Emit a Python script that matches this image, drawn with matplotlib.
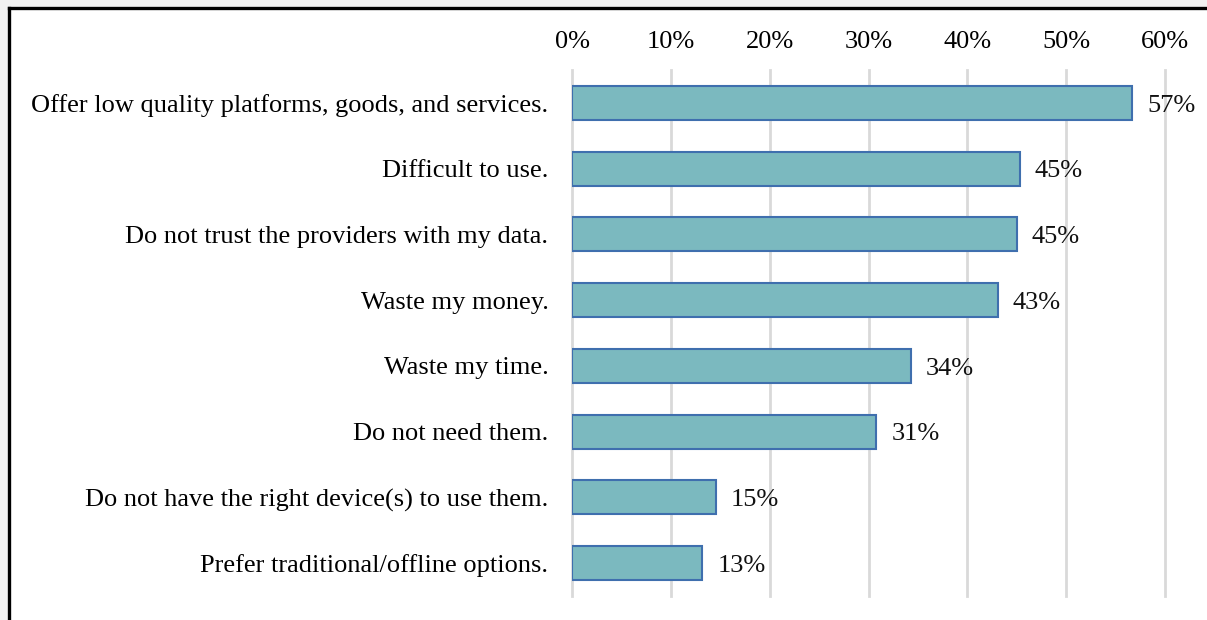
import matplotlib
matplotlib.use("Agg")
import matplotlib.pyplot as plt
from matplotlib.patches import Rectangle
from matplotlib.lines import Line2D
from matplotlib.ticker import FuncFormatter

# Reasons for not using digital platforms (share of respondents, %)
reasons = [
    "Offer low quality platforms, goods, and services.",
    "Difficult to use.",
    "Do not trust the providers with my data.",
    "Waste my money.",
    "Waste my time.",
    "Do not need them.",
    "Do not have the right device(s) to use them.",
    "Prefer traditional/offline options.",
]
shares = [56.7, 45.3, 45.0, 43.1, 34.3, 30.8, 14.6, 13.2]
x_ticks = [0, 10, 20, 30, 40, 50, 60]

plt.rcParams["font.family"] = ["Liberation Serif", "DejaVu Serif"]

W, H = 1207, 620
fig = plt.figure(figsize=(W / 100, H / 100), dpi=100)
fig.patch.set_facecolor("#f2f2f2")

# white panel with a dark frame on the top and left edges
fig.add_artist(Rectangle((9 / W, 0), 1, 1 - 8 / H, transform=fig.transFigure,
                         facecolor="white", edgecolor="none", zorder=0))
fig.add_artist(Line2D([8.5 / W, 8.5 / W], [0, 1 - 7.5 / H], transform=fig.transFigure,
                      color="black", lw=2.4, zorder=1))
fig.add_artist(Line2D([8.5 / W, 1], [1 - 7.5 / H, 1 - 7.5 / H], transform=fig.transFigure,
                      color="black", lw=2.4, zorder=1))

ax = fig.add_axes([572 / W, 1 - 596 / H, (1165 - 572) / W, (596 - 70) / H])
ax.set_facecolor("none")

ypos = range(len(reasons))
ax.barh(ypos, shares, height=0.52, color="#7bb9bf", edgecolor="#3f6fae",
        linewidth=1.5, zorder=3)
for y, v in zip(ypos, shares):
    ax.text(v + 1.5, y + 0.04, f"{v:.0f}%", va="center", ha="left",
            fontsize=19, color="#111111")

ax.set_xlim(0, 60)
ax.set_ylim(len(reasons) - 0.5, -0.5)
ax.set_xticks(x_ticks)
ax.xaxis.set_major_formatter(FuncFormatter(lambda v, _: f"{v:.0f}%"))
ax.xaxis.tick_top()
ax.tick_params(axis="x", length=0, pad=12, labelsize=19)
ax.set_yticks(list(ypos))
ax.set_yticklabels(reasons, fontsize=19)
ax.tick_params(axis="y", length=0, pad=17)
ax.grid(axis="x", color="#d9d9d9", lw=2, zorder=0)
for gl in ax.get_xgridlines():
    gl.set_clip_on(False)
for s in ax.spines.values():
    s.set_visible(False)

fig.savefig("out.png", dpi=100, facecolor=fig.get_facecolor())
